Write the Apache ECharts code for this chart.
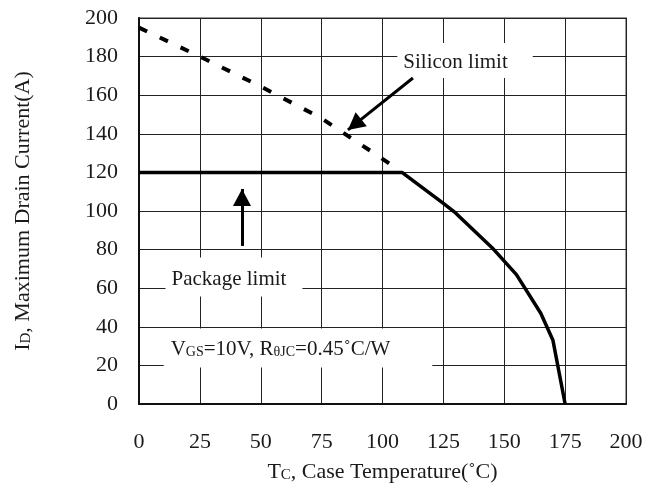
<!DOCTYPE html>
<html>
<head>
<meta charset="utf-8">
<script src="https://cdn.jsdelivr.net/npm/echarts@6/dist/echarts.min.js"></script>
<style>
html,body{margin:0;padding:0;background:#fff;}
#chart{width:658px;height:488px;}
</style>
</head>
<body>
<div id="chart"></div>
<script>
// Data
const siliconT = [0, 25, 50, 75, 100, 107];
const siliconI = [195, 180, 164.5, 148, 127, 121];
const packageT = [0, 108, 125, 130, 145, 155, 165, 170, 175];
const packageI = [120, 120, 104, 99, 81, 67, 47, 33, 0];

// Annotation anchors (data coordinates)
const noteSilicon = [133.9, 178.0];
const notePackage = [39.0, 65.8];
const noteCond = [65.3, 29.0];
const arrowSilicon = [[112.5, 168.9], [85.8, 142.0]];
const arrowPackage = [[42.3, 81.9], [42.3, 111.4]];

const FONT = 'Liberation Serif';
const TXT = '#1a1a1a';

const chart = echarts.init(document.getElementById('chart'), null, {renderer: 'canvas'});

const zip = (a, b) => a.map((v, i) => [v, b[i]]);

chart.setOption({
  animation: false,
  backgroundColor: '#fff',
  grid: {left: 139, right: 32, top: 18, bottom: 84, show: true, borderColor: '#9a9a9a', borderWidth: 2, backgroundColor: 'transparent'},
  xAxis: {
    type: 'value', min: 0, max: 200, interval: 25,
    axisLine: {show: true, onZero: false, lineStyle: {color: '#111', width: 2}},
    axisTick: {show: false},
    splitLine: {show: true, lineStyle: {color: '#222', width: 1}},
    axisLabel: {fontFamily: FONT, fontSize: 22, color: TXT, margin: 27},
    name: 'T{s|C}, Case Temperature(˚C)',
    nameLocation: 'middle', nameGap: 57,
    nameTextStyle: {fontFamily: FONT, fontSize: 22, color: TXT, rich: {s: {fontFamily: FONT, fontSize: 15, color: TXT, verticalAlign: 'bottom'}}}
  },
  yAxis: {
    type: 'value', min: 0, max: 200, interval: 20,
    axisLine: {show: true, onZero: false, lineStyle: {color: '#111', width: 2}},
    axisTick: {show: false},
    splitLine: {show: true, lineStyle: {color: '#222', width: 1}},
    axisLabel: {fontFamily: FONT, fontSize: 22, color: TXT, margin: 21},
    name: 'I{s|D}, Maximum Drain Current(A)',
    nameLocation: 'middle', nameGap: 105,
    nameTextStyle: {fontFamily: FONT, fontSize: 22, color: TXT, rich: {s: {fontFamily: FONT, fontSize: 15, color: TXT, verticalAlign: 'bottom'}}}
  },
  series: [
    {
      name: 'Silicon limit', type: 'line', data: zip(siliconT, siliconI),
      symbol: 'none', silent: true, z: 3,
      lineStyle: {color: '#000', width: 4, type: [9, 14]}
    },
    {
      name: 'Package limit', type: 'line', data: zip(packageT, packageI),
      symbol: 'none', silent: true, z: 3,
      lineStyle: {color: '#000', width: 3.5, join: 'round'}
    },
    {
      name: 'notes', type: 'scatter', symbolSize: 0, silent: true, z: 4,
      itemStyle: {opacity: 1, color: '#000'},
      data: [
        {value: noteSilicon, label: {formatter: 'Silicon limit', padding: [9, 25, 5, 6]}},
        {value: notePackage, label: {formatter: 'Package limit', padding: [11, 16, 7, 6]}},
        {value: noteCond, label: {formatter: 'V{s|GS}=10V, R{s|θJC}=0.45˚C/W', padding: [10, 42, 8, 7]}}
      ],
      label: {
        show: true, position: 'inside', align: 'center', verticalAlign: 'middle',
        fontFamily: FONT, fontSize: 21, color: TXT, opacity: 1, backgroundColor: '#fff',
        rich: {s: {fontFamily: FONT, fontSize: 14, color: TXT, verticalAlign: 'bottom'}}
      },
      markLine: {
        silent: true, animation: false,
        symbol: ['none', 'triangle'], symbolSize: [18, 17], symbolOffset: [0, ['0', '50%']],
        lineStyle: {color: '#000', width: 3, type: 'solid', opacity: 1},
        label: {show: false},
        data: [
          [{coord: arrowSilicon[0]}, {coord: arrowSilicon[1]}],
          [{coord: arrowPackage[0]}, {coord: arrowPackage[1]}]
        ]
      }
    }
  ]
});
</script>
</body>
</html>
